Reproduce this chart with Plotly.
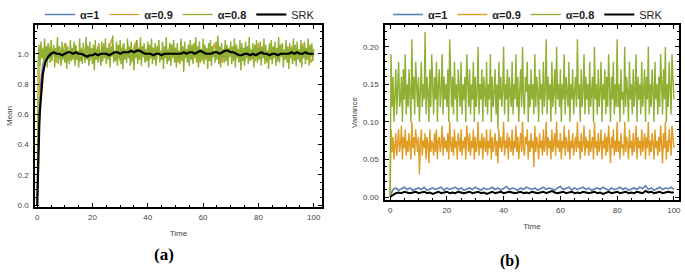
import numpy as np
import plotly.graph_objects as go

# ---------------- data ----------------
# Panel (a): Mean vs Time
mean_a08 = [
    0.00, 0.95, 1.06, 0.92, 1.08, 0.97, 1.03, 0.93, 1.10, 0.96, 1.05, 0.91, 1.07, 0.99, 0.94,
    1.09, 0.95, 1.02, 1.06, 0.91, 1.04, 0.97, 1.11, 0.93, 1.05, 0.98, 0.92, 1.08, 0.96, 1.03,
    0.94, 1.07, 0.90, 1.05, 1.00, 0.93, 1.09, 0.95, 1.04, 0.97, 1.08, 0.92, 1.06, 0.96, 1.02,
    0.91, 1.10, 0.95, 1.03, 0.93, 1.07, 0.98, 0.94, 1.11, 0.96, 1.05, 0.92, 1.08, 0.97, 1.04,
    0.93, 1.06, 0.89, 1.09, 0.96, 1.03, 0.94, 1.07, 0.99, 0.92, 1.08, 0.95, 1.05, 0.97, 1.10,
    0.93, 1.04, 0.96, 1.07, 0.91, 1.05, 0.98, 1.12, 0.94, 1.02, 0.95, 1.08, 0.92, 1.06, 0.97,
    1.09, 0.93, 1.04, 0.90, 1.07, 0.96, 1.03, 0.94, 1.10, 0.97, 1.05, 0.92, 1.08, 0.95, 1.02,
    0.89, 1.06, 0.97, 1.09, 0.93, 1.04, 0.96, 1.11, 0.92, 1.05, 0.98, 1.07, 0.94, 1.03, 0.95,
    1.08, 0.91, 1.06, 0.97, 1.10, 0.93, 1.04, 0.96, 1.07, 0.92, 1.05, 0.99, 1.09, 0.94, 1.02,
    0.96, 1.08, 0.90, 1.05, 0.97, 1.11, 0.93, 1.03, 0.95, 1.07, 0.92, 1.06, 0.98, 1.09, 0.94,
    1.04, 0.91, 1.07, 0.96, 1.02, 0.93, 1.10, 0.95, 1.05, 0.88, 1.08, 0.97, 1.03, 0.94, 1.06,
    0.92, 1.09, 0.96, 1.04, 0.93, 1.07, 0.98, 1.11, 0.94, 1.05, 0.91, 1.08, 0.96, 1.03, 0.95,
    1.10, 0.93, 1.06, 0.97, 1.04, 0.90, 1.07, 0.95, 1.09, 0.92, 1.05, 0.98, 1.02, 0.94, 1.08,
    0.96, 1.12, 0.93, 1.05, 0.91, 1.07, 0.97, 1.03, 0.94, 1.09, 0.95, 1.06, 0.92, 1.04, 0.98,
    1.08, 0.93, 1.05, 0.96, 1.10, 0.91, 1.06, 0.97, 1.03, 0.94, 1.09, 0.89, 1.07, 0.95, 1.04,
    0.92, 1.08, 0.97, 1.05, 0.93, 1.11, 0.95, 1.03, 0.96, 1.07, 0.91, 1.06, 0.98, 1.09, 0.94,
    1.04, 0.96, 1.08, 0.92, 1.05, 0.97, 1.10, 0.93, 1.06, 0.95, 1.02, 0.90, 1.07, 0.96, 1.09,
    0.93, 1.05, 0.97, 1.08, 0.92, 1.04, 0.95, 1.11, 0.94, 1.06, 0.98, 1.07, 0.91, 1.03, 0.96,
    1.09, 0.94, 1.05, 0.90, 1.07, 0.97, 1.04, 0.93, 1.10, 0.95, 1.06, 0.92, 1.08, 0.96, 1.03,
    0.94, 1.09, 0.91, 1.05, 0.97, 1.08, 0.93, 1.04, 0.96, 1.10, 0.92, 1.06, 0.98, 1.07, 0.95,
    1.03,
]

mean_a09 = [
    0.00, 0.96, 1.04, 0.95, 1.06, 0.97, 1.03, 0.94, 1.05, 0.98,
    1.07, 0.95, 1.02, 0.96, 1.05, 0.94, 1.04, 0.97, 1.06, 0.95,
    1.03, 0.96, 1.05, 0.94, 1.07, 0.98, 1.04, 1.10, 0.96, 1.03,
    0.95, 1.06, 0.97, 1.04, 0.94, 1.05, 1.09, 0.96, 1.03, 0.95,
    1.06, 0.97, 1.04, 0.94, 1.05, 0.96, 1.03, 0.95, 1.07, 0.97,
    1.04, 0.94, 1.05, 0.96, 1.03, 0.95, 1.06, 0.97, 1.04, 0.94,
    1.05, 0.96, 1.03, 0.95, 1.07, 0.97, 1.04, 0.94, 1.05, 0.96,
    1.03, 0.95, 1.06, 0.97, 1.04, 0.94, 1.05, 0.96, 1.03, 0.95,
    1.07, 0.97, 1.04, 0.94, 1.05, 0.96, 1.03, 0.95, 1.06, 0.97,
    1.04, 0.94, 1.05, 0.96, 1.03, 0.95, 1.07, 0.97, 1.04, 0.94,
    1.00,
]

t_mean_a1 = [0, 0.25, 0.5, 0.75, 1, 1.5, 2, 2.5, 3, 4, 6, 10, 20, 30, 40, 50, 60, 70, 80, 90, 100]
mean_a1 = [0, 0.30, 0.52, 0.66, 0.76, 0.87, 0.93, 0.96, 0.98, 0.99, 1.00, 1.00, 0.99, 1.00,
           1.00, 1.00, 1.00, 1.01, 1.00, 1.00, 1.00]

t_srk = [0, 0.25, 0.5, 0.75, 1, 1.5, 2, 2.5, 3] + list(range(4, 101))
mean_srk = [
    0.00, 0.22, 0.40, 0.53, 0.63, 0.77, 0.86, 0.91, 0.95,
    0.98, 1.00, 1.01, 1.00, 1.00, 0.99, 1.00, 1.01, 1.01, 1.00,
    1.01, 1.00, 1.00, 0.99, 0.98, 0.99, 0.99, 1.00, 0.99, 1.00,
    1.00, 1.00, 0.99, 1.00, 1.01, 1.01, 1.00, 1.01, 1.01, 1.01,
    1.02, 1.01, 1.02, 1.02, 1.01, 1.00, 1.00, 1.00, 0.99, 1.00,
    1.00, 0.99, 1.00, 1.00, 1.00, 1.00, 1.00, 1.00, 1.00, 1.01,
    1.00, 1.01, 1.01, 1.00, 1.01, 1.02, 1.01, 1.00, 1.00, 1.00,
    1.01, 1.01, 1.00, 1.01, 1.02, 1.02, 1.01, 1.01, 1.00, 0.99,
    0.99, 1.00, 1.00, 0.99, 1.00, 0.99, 1.00, 1.01, 1.00, 1.00,
    0.99, 1.00, 1.00, 0.99, 1.00, 1.00, 1.00, 1.00, 1.01, 1.00,
    1.01, 1.00, 1.00, 1.01, 1.00, 1.00, 1.00,
]

# Panel (b): Variance vs Time
var_a08 = [
    0.00, 0.19, 0.12, 0.16, 0.10, 0.15, 0.17, 0.11, 0.14, 0.18, 0.12, 0.13, 0.16, 0.10, 0.17,
    0.13, 0.19, 0.11, 0.15, 0.12, 0.17, 0.14, 0.10, 0.21, 0.13, 0.16, 0.11, 0.18, 0.15, 0.12,
    0.16, 0.10, 0.14, 0.18, 0.12, 0.15, 0.13, 0.22, 0.11, 0.16, 0.14, 0.10, 0.17, 0.12, 0.19,
    0.14, 0.11, 0.16, 0.13, 0.18, 0.10, 0.15, 0.17, 0.12, 0.14, 0.19, 0.11, 0.16, 0.13, 0.15,
    0.12, 0.17, 0.10, 0.21, 0.14, 0.12, 0.16, 0.11, 0.18, 0.13, 0.15, 0.10, 0.17, 0.14, 0.12,
    0.18, 0.11, 0.15, 0.13, 0.16, 0.10, 0.19, 0.14, 0.12, 0.17, 0.11, 0.15, 0.13, 0.18, 0.10,
    0.16, 0.12, 0.14, 0.20, 0.11, 0.15, 0.13, 0.17, 0.10, 0.16, 0.14, 0.12, 0.18, 0.11, 0.15,
    0.13, 0.19, 0.10, 0.16, 0.12, 0.14, 0.17, 0.11, 0.15, 0.09, 0.18, 0.13, 0.16, 0.12, 0.14,
    0.20, 0.11, 0.15, 0.13, 0.17, 0.10, 0.16, 0.14, 0.12, 0.18, 0.11, 0.15, 0.13, 0.19, 0.12,
    0.16, 0.10, 0.14, 0.17, 0.12, 0.20, 0.13, 0.11, 0.16, 0.14, 0.18, 0.10, 0.15, 0.12, 0.17,
    0.13, 0.15, 0.11, 0.19, 0.12, 0.16, 0.14, 0.10, 0.17, 0.13, 0.15, 0.11, 0.18, 0.12, 0.14,
    0.21, 0.11, 0.16, 0.13, 0.15, 0.10, 0.18, 0.12, 0.14, 0.17, 0.11, 0.20, 0.13, 0.15, 0.12,
    0.17, 0.10, 0.15, 0.13, 0.19, 0.11, 0.16, 0.14, 0.12, 0.18, 0.10, 0.15, 0.13, 0.17, 0.11,
    0.14, 0.16, 0.12, 0.21, 0.13, 0.15, 0.10, 0.17, 0.12, 0.14, 0.19, 0.11, 0.16, 0.13, 0.15,
    0.11, 0.18, 0.12, 0.14, 0.16, 0.10, 0.20, 0.13, 0.15, 0.11, 0.17, 0.12, 0.14, 0.18, 0.10,
    0.15, 0.13, 0.17, 0.11, 0.16, 0.12, 0.19, 0.14, 0.10, 0.16, 0.13, 0.18, 0.11, 0.15, 0.12,
    0.21, 0.12, 0.15, 0.10, 0.17, 0.13, 0.14, 0.11, 0.20, 0.12, 0.16, 0.14, 0.10, 0.18, 0.13,
    0.15, 0.11, 0.17, 0.12, 0.14, 0.19, 0.10, 0.16, 0.13, 0.15, 0.11, 0.18, 0.12, 0.14, 0.17,
    0.10, 0.16, 0.13, 0.20, 0.11, 0.15, 0.12, 0.17, 0.14, 0.10, 0.18, 0.13, 0.15, 0.11, 0.16,
    0.12, 0.19, 0.14, 0.11, 0.17, 0.13, 0.20, 0.10, 0.15, 0.12, 0.18, 0.14, 0.11, 0.19, 0.16,
    0.13,
]

var_a09 = [
    0.00, 0.09, 0.06, 0.08, 0.05, 0.07, 0.085, 0.055, 0.075, 0.09, 0.06, 0.07, 0.095, 0.05, 0.08,
    0.065, 0.09, 0.055, 0.075, 0.06, 0.085, 0.07, 0.05, 0.10, 0.065, 0.08, 0.055, 0.09, 0.07, 0.06,
    0.08, 0.03, 0.07, 0.09, 0.055, 0.075, 0.065, 0.085, 0.05, 0.08, 0.07, 0.045, 0.09, 0.06, 0.075,
    0.07, 0.055, 0.085, 0.06, 0.09, 0.05, 0.075, 0.08, 0.06, 0.07, 0.095, 0.055, 0.08, 0.065, 0.075,
    0.06, 0.085, 0.05, 0.10, 0.07, 0.06, 0.08, 0.055, 0.09, 0.065, 0.075, 0.05, 0.085, 0.07, 0.06,
    0.09, 0.055, 0.075, 0.065, 0.08, 0.05, 0.095, 0.07, 0.06, 0.085, 0.055, 0.075, 0.065, 0.09, 0.05,
    0.08, 0.06, 0.07, 0.10, 0.055, 0.075, 0.065, 0.085, 0.05, 0.08, 0.07, 0.06, 0.09, 0.055, 0.075,
    0.065, 0.09, 0.05, 0.08, 0.06, 0.07, 0.085, 0.055, 0.075, 0.045, 0.09, 0.065, 0.08, 0.06, 0.07,
    0.10, 0.055, 0.075, 0.065, 0.085, 0.05, 0.08, 0.07, 0.06, 0.09, 0.055, 0.075, 0.065, 0.095, 0.06,
    0.08, 0.05, 0.07, 0.085, 0.06, 0.10, 0.065, 0.055, 0.08, 0.07, 0.09, 0.05, 0.075, 0.06, 0.085,
    0.065, 0.075, 0.04, 0.095, 0.06, 0.08, 0.07, 0.05, 0.085, 0.065, 0.075, 0.055, 0.09, 0.06, 0.07,
    0.10, 0.055, 0.08, 0.065, 0.075, 0.05, 0.09, 0.06, 0.07, 0.085, 0.055, 0.10, 0.065, 0.075, 0.06,
    0.085, 0.05, 0.075, 0.065, 0.095, 0.055, 0.08, 0.07, 0.06, 0.09, 0.05, 0.075, 0.065, 0.085, 0.055,
    0.07, 0.08, 0.06, 0.10, 0.065, 0.075, 0.05, 0.085, 0.06, 0.07, 0.095, 0.055, 0.08, 0.065, 0.075,
    0.055, 0.09, 0.06, 0.07, 0.08, 0.05, 0.10, 0.065, 0.075, 0.055, 0.085, 0.06, 0.07, 0.09, 0.05,
    0.075, 0.065, 0.085, 0.055, 0.08, 0.06, 0.095, 0.07, 0.045, 0.08, 0.065, 0.09, 0.055, 0.075, 0.06,
    0.10, 0.06, 0.075, 0.05, 0.085, 0.065, 0.07, 0.055, 0.10, 0.06, 0.08, 0.07, 0.05, 0.09, 0.065,
    0.075, 0.055, 0.085, 0.06, 0.07, 0.095, 0.05, 0.08, 0.065, 0.075, 0.055, 0.09, 0.06, 0.07, 0.085,
    0.05, 0.08, 0.065, 0.10, 0.055, 0.075, 0.06, 0.085, 0.07, 0.05, 0.09, 0.065, 0.075, 0.055, 0.08,
    0.06, 0.095, 0.07, 0.045, 0.085, 0.065, 0.10, 0.05, 0.075, 0.06, 0.09, 0.07, 0.055, 0.095, 0.08,
    0.065,
]

var_a1 = [
    0.000, 0.010, 0.012, 0.009, 0.011, 0.013, 0.010, 0.012, 0.009, 0.011,
    0.012, 0.010, 0.013, 0.009, 0.011, 0.012, 0.010, 0.011, 0.013, 0.009,
    0.012, 0.010, 0.011, 0.013, 0.010, 0.012, 0.009, 0.011, 0.012, 0.010,
    0.013, 0.011, 0.009, 0.012, 0.010, 0.011, 0.013, 0.010, 0.012, 0.009,
    0.011, 0.014, 0.010, 0.012, 0.011, 0.009, 0.012, 0.010, 0.013, 0.011,
    0.010, 0.012, 0.009, 0.011, 0.013, 0.010, 0.012, 0.011, 0.009, 0.012,
    0.014, 0.010, 0.011, 0.013, 0.009, 0.012, 0.010, 0.011, 0.013, 0.010,
    0.012, 0.009, 0.011, 0.012, 0.010, 0.013, 0.011, 0.009, 0.012, 0.010,
    0.011, 0.013, 0.010, 0.012, 0.009, 0.011, 0.012, 0.010, 0.013, 0.011,
    0.015, 0.010, 0.012, 0.009, 0.011, 0.013, 0.010, 0.012, 0.011, 0.013,
    0.010,
]

var_srk = [
    0.000, 0.003, 0.005, 0.006, 0.005, 0.007, 0.006, 0.005, 0.006, 0.007,
    0.005, 0.006, 0.007, 0.005, 0.006, 0.004, 0.006, 0.007, 0.005, 0.006,
    0.007, 0.005, 0.006, 0.005, 0.007, 0.006, 0.005, 0.006, 0.007, 0.005,
    0.006, 0.007, 0.005, 0.006, 0.004, 0.006, 0.007, 0.005, 0.006, 0.007,
    0.005, 0.006, 0.007, 0.006, 0.005, 0.006, 0.007, 0.005, 0.006, 0.005,
    0.007, 0.006, 0.005, 0.006, 0.007, 0.005, 0.006, 0.008, 0.006, 0.005,
    0.006, 0.007, 0.005, 0.006, 0.007, 0.005, 0.006, 0.005, 0.007, 0.006,
    0.005, 0.006, 0.007, 0.005, 0.006, 0.004, 0.006, 0.007, 0.005, 0.006,
    0.007, 0.005, 0.006, 0.007, 0.005, 0.006, 0.005, 0.007, 0.006, 0.005,
    0.008, 0.006, 0.007, 0.005, 0.006, 0.007, 0.005, 0.006, 0.007, 0.006,
    0.006,
]

names = ["<b>α=1</b>", "<b>α=0.9</b>", "<b>α=0.8</b>", "SRK"]
colors = ["#5E81B5", "#E19C24", "#8FB032", "#000000"]


def grid(vals):
    return np.linspace(0, 100, len(vals))


# ---------------- figure ----------------
fig = go.Figure()

# Panel (a)
fig.add_trace(go.Scatter(x=t_mean_a1, y=mean_a1, mode="lines", name=names[0],
                         line=dict(color=colors[0], width=1.5), xaxis="x", yaxis="y", legend="legend"))
fig.add_trace(go.Scatter(x=grid(mean_a09), y=mean_a09, mode="lines", name=names[1],
                         line=dict(color=colors[1], width=1.2), xaxis="x", yaxis="y", legend="legend"))
fig.add_trace(go.Scatter(x=grid(mean_a08), y=mean_a08, mode="lines", name=names[2],
                         line=dict(color=colors[2], width=1.4), xaxis="x", yaxis="y", legend="legend"))
fig.add_trace(go.Scatter(x=t_srk, y=mean_srk, mode="lines", name=names[3],
                         line=dict(color=colors[3], width=2.2), xaxis="x", yaxis="y", legend="legend"))

# Panel (b)
fig.add_trace(go.Scatter(x=grid(var_a1), y=var_a1, mode="lines", name=names[0],
                         line=dict(color=colors[0], width=1.6), xaxis="x2", yaxis="y2", legend="legend2"))
fig.add_trace(go.Scatter(x=grid(var_a09), y=var_a09, mode="lines", name=names[1],
                         line=dict(color=colors[1], width=1.4), xaxis="x2", yaxis="y2", legend="legend2"))
fig.add_trace(go.Scatter(x=grid(var_a08), y=var_a08, mode="lines", name=names[2],
                         line=dict(color=colors[2], width=1.4), xaxis="x2", yaxis="y2", legend="legend2"))
fig.add_trace(go.Scatter(x=grid(var_srk), y=var_srk, mode="lines", name=names[3],
                         line=dict(color=colors[3], width=2), xaxis="x2", yaxis="y2", legend="legend2"))

W, H = 685, 272
FONT = "Arial, Liberation Sans, sans-serif"
tickfont = dict(family=FONT, size=8, color="#444")
axis_common = dict(showline=True, linecolor="black", linewidth=1.5, mirror="allticks",
                   ticks="inside", ticklen=4, tickcolor="black", showgrid=False, zeroline=False,
                   tickfont=tickfont, automargin=False, ticklabeloverflow="allow")
title_font = dict(family=FONT, size=8, color="#444")

fig.update_layout(
    width=W, height=H, margin=dict(l=0, r=0, t=0, b=0, autoexpand=False),
    paper_bgcolor="white", plot_bgcolor="white",
    font=dict(family=FONT, color="#333"),
    xaxis=dict(domain=[35 / W, 322 / W], range=[-0.8, 103], anchor="y",
               tickvals=[0, 20, 40, 60, 80, 100], ticklabelstandoff=2,
               minor=dict(ticks="inside", ticklen=2, dtick=5, tick0=0, tickcolor="black"),
               title=dict(text="Time", font=title_font, standoff=9),
               **axis_common),
    yaxis=dict(domain=[1 - 207 / H, 1 - 25 / H], range=[-0.013, 1.19], anchor="x",
               tickvals=[0, 0.2, 0.4, 0.6, 0.8, 1.0], ticktext=["0.0", "0.2", "0.4", "0.6", "0.8", "1.0"],
               ticklabelstandoff=3,
               minor=dict(ticks="inside", ticklen=2, dtick=0.05, tick0=0, tickcolor="black"),
               title=dict(text="Mean", font=title_font, standoff=4),
               **axis_common),
    xaxis2=dict(domain=[385 / W, 679 / W], range=[-1.8, 101.8], anchor="y2",
                tickvals=[0, 20, 40, 60, 80, 100], ticklabelstandoff=2,
                minor=dict(ticks="inside", ticklen=2, dtick=5, tick0=0, tickcolor="black"),
                title=dict(text="Time", font=title_font, standoff=9),
                **axis_common),
    yaxis2=dict(domain=[1 - 200 / H, 1 - 25 / H], range=[-0.004, 0.229], anchor="x2",
                tickvals=[0, 0.05, 0.10, 0.15, 0.20], ticktext=["0.00", "0.05", "0.10", "0.15", "0.20"],
                ticklabelstandoff=3,
                minor=dict(ticks="inside", ticklen=2, dtick=0.01, tick0=0, tickcolor="black"),
                title=dict(text="Variance", font=title_font, standoff=4),
                **axis_common),
    legend=dict(orientation="h", x=40 / W, y=1.0, xanchor="left", yanchor="top",
                font=dict(family=FONT, size=11, color="#222"), itemwidth=30, bgcolor="rgba(0,0,0,0)",
                tracegroupgap=0),
    legend2=dict(orientation="h", x=388 / W, y=1.0, xanchor="left", yanchor="top",
                 font=dict(family=FONT, size=11, color="#222"), itemwidth=30, bgcolor="rgba(0,0,0,0)",
                 tracegroupgap=0),
    annotations=[
        dict(text="<b>(a)</b>", x=164 / W, y=1 - 254 / H, xref="paper", yref="paper",
             xanchor="center", yanchor="middle",
             showarrow=False, font=dict(family="Liberation Serif, Times New Roman", size=17, color="black")),
        dict(text="<b>(b)</b>", x=510 / W, y=1 - 261 / H, xref="paper", yref="paper",
             xanchor="center", yanchor="middle",
             showarrow=False, font=dict(family="Liberation Serif, Times New Roman", size=16, color="black")),
    ],
)

fig.write_html("out.html", config={"displayModeBar": False},
               post_script="document.body.style.margin='0';")
